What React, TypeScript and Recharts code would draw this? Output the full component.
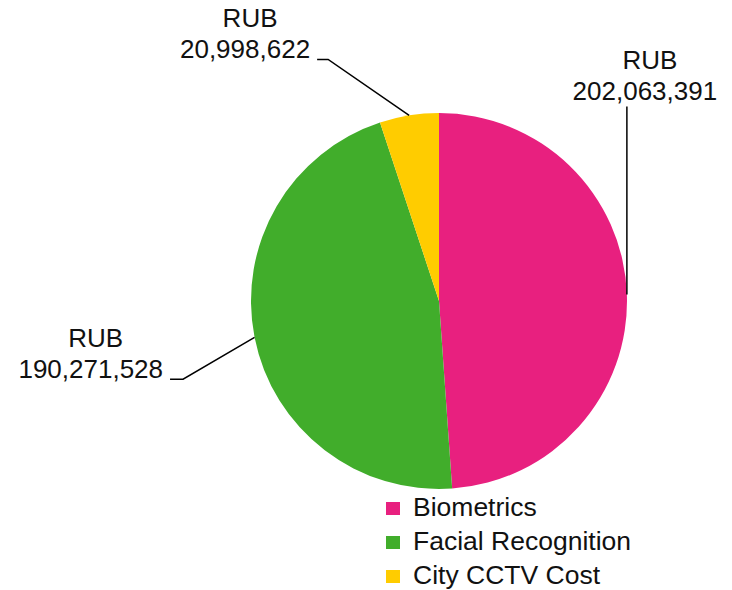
import React from 'react';
import { PieChart, Pie, Cell, Legend } from 'recharts';

const categories = ['Biometrics', 'Facial Recognition', 'City CCTV Cost'];
const values = [202063391, 190271528, 20998622];
const currency = 'RUB';
const colors = ['#E8207F', '#41AD2B', '#FFCC00'];

const data = categories.map((name, i) => ({ name, value: values[i] }));

const FONT = '"Liberation Sans", Arial, sans-serif';
const FS = 26;
const LEGEND_FS = 26.5;

// label leader layout: elbow offset from slice outer point, horizontal tail, side
const labelLayout = [
  { ex: 0, ey: -188, hx: 0, side: 'top' },
  { ex: -71.5, ey: 41.8, hx: -13, side: 'left' },
  { ex: -81, ey: -56, hx: -11, side: 'left' },
];

const fmt = (v: number) => v.toLocaleString('en-US');
const textWidth = (s: string) =>
  s.split('').reduce((w, c) => w + (c === ',' ? 0.278 : 0.556) * FS, 0);

const renderLabel = (props: any) => {
  const { cx, cy, midAngle, outerRadius, index, value } = props;
  const RAD = Math.PI / 180;
  const ox = cx + outerRadius * Math.cos(-midAngle * RAD);
  const oy = cy + outerRadius * Math.sin(-midAngle * RAD);
  const L = labelLayout[index];
  const exx = ox + L.ex;
  const eyy = oy + L.ey;
  const hx = exx + L.hx;
  const num = fmt(value);
  const w = textWidth(num);
  let numX: number, numY: number, anchor: string, center: number;
  if (L.side === 'top') {
    center = exx + 18;
    numX = center;
    numY = eyy - 6;
    anchor = 'middle';
  } else {
    numX = hx - 7;
    numY = eyy - 1.5;
    anchor = 'end';
    center = numX - w / 2;
  }
  return (
    <g key={`lbl-${index}`}>
      <polyline
        points={`${ox},${oy} ${exx},${eyy} ${hx},${eyy}`}
        fill="none"
        stroke="#000"
        strokeWidth={1.5}
      />
      <text x={numX} y={numY} textAnchor={anchor as any} fontFamily={FONT} fontSize={FS} fill="#111">
        {num}
      </text>
      <text x={center + 5} y={numY - 31} textAnchor="middle" fontFamily={FONT} fontSize={FS} fill="#111">
        {currency}
      </text>
    </g>
  );
};

const renderLegend = () => (
  <div style={{ fontFamily: FONT, fontSize: LEGEND_FS, color: '#111' }}>
    {categories.map((c, i) => (
      <div key={c} style={{ position: 'relative', height: 34, lineHeight: '34px', paddingLeft: 27, whiteSpace: 'nowrap' }}>
        <span
          style={{
            position: 'absolute',
            left: 0,
            top: 12,
            width: 14,
            height: 13,
            background: colors[i],
          }}
        />
        {c}
      </div>
    ))}
  </div>
);

export default function App() {
  return (
    <div style={{ width: 732, height: 590, position: 'relative', marginTop: -8, marginLeft: -8 }}>
      <PieChart width={732} height={590} margin={{ top: 0, right: 0, bottom: 0, left: 0 }}>
        <Pie
          data={data}
          dataKey="value"
          nameKey="name"
          cx={439}
          cy={301}
          outerRadius={188}
          startAngle={90}
          endAngle={-270}
          stroke="none"
          label={renderLabel}
          labelLine={false}
          isAnimationActive={false}
        >
          {data.map((d, i) => (
            <Cell key={d.name} fill={colors[i]} stroke="none" />
          ))}
        </Pie>
        <Legend
          content={renderLegend}
          wrapperStyle={{ position: 'absolute', left: 386, top: 490, width: 330 }}
        />
      </PieChart>
    </div>
  );
}
